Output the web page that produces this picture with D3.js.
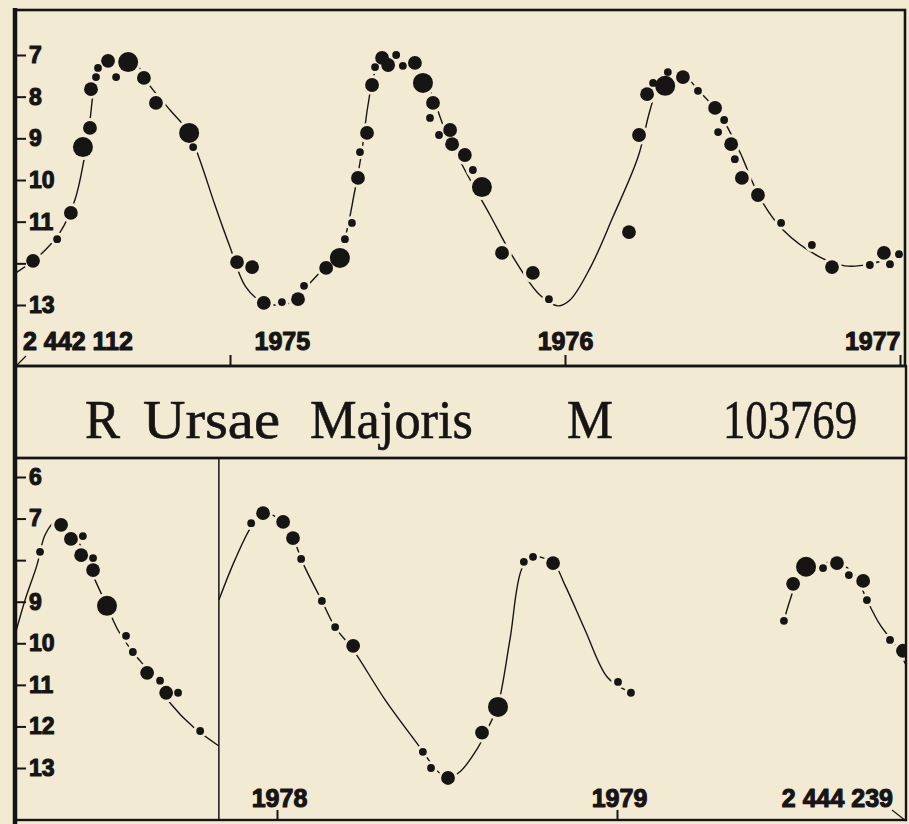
<!DOCTYPE html>
<html>
<head>
<meta charset="utf-8">
<script src="https://cdn.jsdelivr.net/npm/d3@7"></script>
<style>
  body { margin: 0; background: #f3ead4; }
  svg { display: block; }
</style>
</head>
<body>
<svg id="chart" width="909" height="824"></svg>
<script>
// R UMa visual light curve, two strips (1974-77 and 1977-79)
// dots: [year, magnitude, weight class 1..3]

var topDots = [
  [1974.412, 11.94, 2], [1974.484, 11.42, 1], [1974.525, 10.79, 2], [1974.561, 9.21, 3],
  [1974.582, 8.75, 2], [1974.585, 7.82, 2], [1974.600, 7.53, 1], [1974.606, 7.31, 1],
  [1974.636, 7.14, 2], [1974.660, 7.53, 1], [1974.696, 7.17, 3], [1974.743, 7.55, 2],
  [1974.779, 8.15, 2], [1974.878, 8.87, 3], [1974.890, 9.21, 1], [1975.021, 11.97, 2],
  [1975.066, 12.09, 2], [1975.101, 12.95, 2], [1975.155, 12.93, 1], [1975.203, 12.86, 2],
  [1975.221, 12.54, 1], [1975.287, 12.11, 2], [1975.328, 11.87, 3], [1975.343, 11.42, 1],
  [1975.364, 11.03, 1], [1975.382, 9.95, 2], [1975.388, 9.33, 1], [1975.409, 8.87, 2],
  [1975.424, 7.72, 2], [1975.433, 7.29, 1], [1975.454, 7.07, 2], [1975.472, 7.24, 2],
  [1975.496, 7.00, 1], [1975.516, 7.26, 1], [1975.552, 7.19, 2], [1975.576, 7.67, 3],
  [1975.606, 8.15, 2], [1975.597, 8.51, 1], [1975.624, 8.92, 1], [1975.657, 8.80, 2],
  [1975.663, 9.14, 2], [1975.701, 9.40, 2], [1975.725, 9.76, 1], [1975.752, 10.17, 3],
  [1975.812, 11.75, 2], [1975.904, 12.23, 2], [1975.952, 12.86, 1], [1976.191, 11.25, 2],
  [1976.221, 8.92, 2], [1976.245, 7.94, 2], [1976.263, 7.67, 1], [1976.299, 7.74, 3],
  [1976.307, 7.41, 1], [1976.352, 7.53, 2], [1976.397, 7.86, 1], [1976.448, 8.27, 2],
  [1976.475, 8.56, 1], [1976.457, 8.85, 1], [1976.496, 9.14, 2], [1976.507, 9.50, 1],
  [1976.528, 9.95, 2], [1976.576, 10.36, 2], [1976.645, 11.03, 1], [1976.737, 11.56, 1],
  [1976.797, 12.09, 2], [1976.910, 12.04, 1], [1976.952, 11.75, 2], [1976.970, 12.02, 1],
  [1976.997, 11.78, 1]
];

var topCurve = [
  [1974.361, 12.23], [1974.433, 11.80], [1974.493, 11.25], [1974.537, 10.48], [1974.564, 9.52],
  [1974.582, 8.56], [1974.597, 7.72], [1974.627, 7.24], [1974.672, 7.05], [1974.716, 7.17],
  [1974.761, 7.74], [1974.821, 8.32], [1974.878, 8.87], [1974.910, 9.52], [1974.955, 10.60],
  [1975.000, 11.61], [1975.045, 12.54], [1975.090, 12.90], [1975.134, 13.00], [1975.185, 12.93],
  [1975.239, 12.47], [1975.284, 12.09], [1975.328, 11.73], [1975.373, 10.24], [1975.394, 9.28],
  [1975.412, 8.20], [1975.433, 7.41], [1975.463, 7.07], [1975.507, 7.12], [1975.552, 7.24],
  [1975.597, 7.84], [1975.642, 8.80], [1975.701, 9.76], [1975.776, 10.84], [1975.845, 11.85],
  [1975.925, 12.76], [1975.979, 13.02], [1976.015, 12.88], [1976.075, 12.11], [1976.143, 10.89],
  [1976.218, 9.45], [1976.254, 8.32], [1976.284, 7.65], [1976.343, 7.41], [1976.397, 7.84],
  [1976.463, 8.44], [1976.522, 9.33], [1976.582, 10.43], [1976.651, 11.20], [1976.761, 11.85],
  [1976.836, 12.06], [1976.910, 12.02], [1976.970, 11.87], [1977.015, 11.73]
];

var botDots = [
  [1977.303, 7.80, 1], [1977.365, 7.15, 2], [1977.394, 7.49, 2], [1977.429, 7.42, 1],
  [1977.424, 7.88, 2], [1977.459, 7.95, 1], [1977.459, 8.24, 2], [1977.500, 9.10, 3],
  [1977.556, 9.82, 1], [1977.576, 10.21, 1], [1977.618, 10.71, 2], [1977.656, 10.90, 1],
  [1977.674, 11.19, 2], [1977.709, 11.19, 1], [1977.774, 12.11, 1],
  [1977.924, 7.11, 1], [1977.959, 6.87, 2], [1978.018, 7.08, 2], [1978.047, 7.47, 2],
  [1978.071, 7.97, 1], [1978.132, 8.98, 1], [1978.171, 9.61, 1], [1978.224, 10.06, 2],
  [1978.429, 12.61, 1], [1978.453, 13.00, 1], [1978.503, 13.24, 2], [1978.603, 12.15, 2],
  [1978.650, 11.53, 3], [1978.726, 8.04, 1], [1978.753, 7.92, 1], [1978.812, 8.07, 2],
  [1979.003, 10.93, 1], [1979.041, 11.19, 1],
  [1979.491, 9.46, 1], [1979.518, 8.57, 2], [1979.556, 8.16, 3], [1979.606, 8.19, 1],
  [1979.647, 8.07, 2], [1979.682, 8.36, 1], [1979.724, 8.50, 2], [1979.735, 8.96, 1],
  [1979.803, 9.92, 1], [1979.841, 10.18, 2]
];

// bottom strip mean curve, three pieces
var botCurveA = [
  [1977.232, 9.73], [1977.259, 8.96], [1977.294, 8.12], [1977.318, 7.39], [1977.347, 7.08],
  [1977.376, 7.15], [1977.421, 7.63], [1977.465, 8.48], [1977.500, 9.10], [1977.532, 9.68],
  [1977.576, 10.21], [1977.626, 10.71], [1977.685, 11.43], [1977.753, 12.01], [1977.829, 12.47]
];
var botCurveB = [
  [1977.829, 8.96], [1977.876, 8.00], [1977.924, 7.20], [1977.959, 6.87], [1978.018, 7.08],
  [1978.047, 7.47], [1978.079, 8.12], [1978.132, 8.98], [1978.171, 9.61], [1978.224, 10.16],
  [1978.318, 11.36], [1978.421, 12.51], [1978.468, 13.04], [1978.500, 13.24], [1978.538, 13.09],
  [1978.591, 12.51], [1978.621, 12.03], [1978.650, 11.48], [1978.685, 9.92], [1978.721, 8.19],
  [1978.753, 7.92], [1978.812, 8.07], [1978.847, 8.60], [1978.906, 9.68], [1978.971, 10.81],
  [1979.024, 11.12]
];
var botCurveC = [
  [1979.491, 9.46], [1979.509, 8.96], [1979.538, 8.36], [1979.582, 8.12], [1979.647, 8.07],
  [1979.700, 8.36], [1979.735, 8.96], [1979.774, 9.56], [1979.818, 10.04], [1979.850, 10.52]
];

var topMagTicks = [7, 8, 9, 10, 11, 12, 13];
var topMagLabels = ["7", "8", "9", "10", "11", "", "13"];
var botMagTicks = [6, 7, 8, 9, 10, 11, 12, 13];
var botMagLabels = ["6", "7", "", "9", "10", "11", "12", "13"];
var topYears = [1975, 1976, 1977];
var botYears = [1978, 1979];
var spliceYear = 1977.829;
var jdStart = "2 442 112";
var jdEnd = "2 444 239";
var titleWords = ["R", "Ursae", "Majoris", "M", "103769"];

var ink = "#171514", paper = "#f3ead4";
var svg = d3.select("#chart");

svg.append("rect").attr("width", 909).attr("height", 824).attr("fill", paper);

var xTop = d3.scaleLinear().domain([1975, 1977]).range([230, 900]);
var yTop = d3.scaleLinear().domain([7, 13]).range([55, 305]);
var xBot = d3.scaleLinear().domain([1978, 1979]).range([277, 617]);
var yBot = d3.scaleLinear().domain([6, 13]).range([477, 768]);
var rad = d3.scaleOrdinal().domain([1, 2, 3]).range([3.9, 6.9, 10]);

var defs = svg.append("defs");
defs.append("clipPath").attr("id", "clipTop")
    .append("rect").attr("x", 17).attr("y", 12).attr("width", 887).attr("height", 353);
defs.append("clipPath").attr("id", "clipBot")
    .append("rect").attr("x", 17).attr("y", 460).attr("width", 888).attr("height", 359);

function drawStrip(clipId, x, y, curves, dots) {
    var g = svg.append("g").attr("clip-path", "url(#" + clipId + ")");
    var line = d3.line()
        .x(function(d) { return x(d[0]) })
        .y(function(d) { return y(d[1]) })
        .curve(d3.curveCatmullRom.alpha(0.5));

    curves.forEach(function(c) {
        g.append("path")
            .attr("d", line(c))
            .attr("fill", "none")
            .attr("stroke", ink)
            .attr("stroke-width", 1.4);
    });

    // paper coloured halo so the curve breaks around each dot
    g.selectAll("circle.halo")
        .data(dots).enter()
        .append("circle")
            .attr("class", "halo")
            .attr("cx", function(d) { return x(d[0]) })
            .attr("cy", function(d) { return y(d[1]) })
            .attr("r", function(d) { return rad(d[2]) + 3 })
            .attr("fill", paper);

    g.selectAll("circle.dot")
        .data(dots).enter()
        .append("circle")
            .attr("class", "dot")
            .attr("cx", function(d) { return x(d[0]) })
            .attr("cy", function(d) { return y(d[1]) })
            .attr("r", function(d) { return rad(d[2]) })
            .attr("fill", ink);
}

drawStrip("clipTop", xTop, yTop, [topCurve], topDots);
drawStrip("clipBot", xBot, yBot, [botCurveA, botCurveB, botCurveC], botDots);

// frame
var frame = svg.append("g").attr("fill", "none").attr("stroke", ink);
frame.append("rect").attr("x", 15).attr("y", 10).attr("width", 890).attr("height", 356).attr("stroke-width", 2.6);
frame.append("rect").attr("x", 15).attr("y", 366).attr("width", 891).attr("height", 92).attr("stroke-width", 2.4);
frame.append("rect").attr("x", 15).attr("y", 458).attr("width", 891).attr("height", 362).attr("stroke-width", 2.4);
frame.append("line").attr("x1", 15).attr("x2", 15).attr("y1", 8).attr("y2", 824).attr("stroke-width", 4.5);
frame.append("line")
    .attr("x1", xBot(spliceYear)).attr("x2", xBot(spliceYear))
    .attr("y1", 458).attr("y2", 820)
    .attr("stroke-width", 1.5);

// magnitude axes
function magAxis(scale, ticks, labels) {
    return d3.axisRight(scale)
        .tickValues(ticks)
        .tickSize(10)
        .tickPadding(3)
        .tickFormat(function(d, i) { return labels[i] });
}

function styleAxis(g) {
    g.select(".domain").remove();
    g.selectAll("line").attr("stroke", ink).attr("stroke-width", 2);
    g.selectAll("text")
        .attr("fill", ink)
        .attr("stroke", ink)
        .attr("stroke-width", 1.1)
        .attr("stroke-linejoin", "round")
        .style("font-family", "'Liberation Sans', Arial, sans-serif")
        .style("font-weight", "bold");
}

svg.append("g").attr("transform", "translate(16,0)")
    .call(magAxis(yTop, topMagTicks, topMagLabels))
    .call(styleAxis)
    .selectAll("text").style("font-size", "23px");

svg.append("g").attr("transform", "translate(16,0)")
    .call(magAxis(yBot, botMagTicks, botMagLabels))
    .call(styleAxis)
    .selectAll("text").style("font-size", "23px");

// year ticks
var topX = svg.append("g").attr("transform", "translate(0,366)")
    .call(d3.axisTop(xTop).tickValues(topYears).tickSize(11).tickPadding(5).tickFormat(d3.format("d")))
    .call(styleAxis);
topX.selectAll("text")
    .style("font-size", "25px")
    .attr("text-anchor", function(d) { return d === 1975 ? "start" : d === 1977 ? "end" : "middle" })
    .attr("dx", function(d) { return d === 1975 ? 24 : 0 });

var botX = svg.append("g").attr("transform", "translate(0,820)")
    .call(d3.axisTop(xBot).tickValues(botYears).tickSize(10).tickPadding(3).tickFormat(d3.format("d")))
    .call(styleAxis);
botX.selectAll("text").style("font-size", "25px").attr("dx", 2);

// julian day markers at the ends
var jd = svg.append("g")
    .attr("fill", ink).attr("stroke", ink).attr("stroke-width", 1.1).attr("stroke-linejoin", "round")
    .style("font-family", "'Liberation Sans', Arial, sans-serif")
    .style("font-weight", "bold").style("font-size", "25px");
jd.append("text").attr("x", 23).attr("y", 350).text(jdStart);
jd.append("text").attr("x", 893).attr("y", 807).attr("text-anchor", "end").text(jdEnd);
svg.append("line").attr("x1", 17).attr("y1", 365).attr("x2", 26).attr("y2", 356)
    .attr("stroke", ink).attr("stroke-width", 1.2);
svg.append("line").attr("x1", 892).attr("y1", 810).attr("x2", 906).attr("y2", 821)
    .attr("stroke", ink).attr("stroke-width", 1.2);

// title band
var titleX = [85, 143, 310, 567, 723];
var titleW = [35, 137, 163, 46, 134];
svg.selectAll("text.title")
    .data(titleWords).enter()
    .append("text")
        .attr("class", "title")
        .attr("x", function(d, i) { return titleX[i] })
        .attr("y", 438)
        .attr("textLength", function(d, i) { return titleW[i] })
        .attr("lengthAdjust", "spacingAndGlyphs")
        .attr("fill", ink)
        .attr("stroke", ink)
        .attr("stroke-width", 0.6)
        .style("font-family", "'Liberation Serif', 'Times New Roman', serif")
        .style("font-size", "55px")
        .text(function(d) { return d });
</script>
</body>
</html>
